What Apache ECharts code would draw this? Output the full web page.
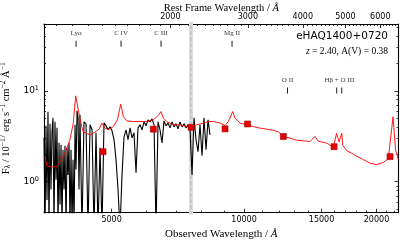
<!DOCTYPE html>
<html><head><meta charset="utf-8">
<script src="https://cdn.jsdelivr.net/npm/echarts@6/dist/echarts.min.js"></script>
<style>html,body{margin:0;padding:0;background:#fff}#c{width:407px;height:242px}</style>
</head><body><div id="c"></div>
<script>
// ---- data ----
const redshift = 2.40;
const objectName = 'eHAQ1400+0720';
// observed spectrum (black)
const specWave = [3511,3530,3548,3567,3585,3604,3623,3642,3661,3680,3700,3719,3739,3758,3778,3798,3818,3838,3858,3878,3899,3919,3940,3961,3981,4002,4023,4044,4066,4087,4109,4130,4152,4174,4196,4217,4238,
4283,4328,4374,4420,4467,4514,4561,4609,4658,4707,4756,4806,4857,4908,4960,5012,5065,5118,5172,5226,5281,5337,5393,5450,5507,5565,5623,5683,5742,5803,5864,5926,5988,6051,6115,6179,6244,6310,6376,6443,6511,6579,6649,6719,6790,6861,6933,7006,7080,7154,7229,7306,7382,7460,7539,7618,7698,7779,7861,7943,8027,8111,8197,8283,8370];
const specFlux = [3.04,0.3,4.12,0.63,5.88,0.3,4.34,0.82,3.54,5.05,0.3,4.56,1.05,3.92,0.3,2.68,0.56,2.55,0.3,2.25,0.82,2.49,0.3,2.36,1.19,2.68,0.3,2.25,0.3,1.75,0.3,4.23,1.36,6.03,5.05,0.82,5.45,
0.3,4.56,4.34,0.3,4.23,3.73,0.3,3.45,0.3,2.36,0.3,4.45,4.12,3.73,4.02,3.64,2.90,1.75,0.82,0.3,1.19,3.12,3.73,2.90,3.92,3.04,3.45,1.26,3.92,4.23,3.73,4.56,4.12,4.80,4.56,4.92,4.23,0.3,4.56,3.73,2.68,4.68,4.12,4.45,3.92,4.56,4.02,4.34,3.82,4.56,4.02,4.34,3.92,4.23,3.73,1.19,5.05,2.90,2.14,4.23,1.93,5.05,2.25,4.80,3.28];
// reddened quasar model (red)
const modelWave = [3530,3561,3623,3752,3818,3919,4023,4093,4145,4201,4276,4312,4390,4467,4547,4628,4691,4750,4832,4916,5047,5154,5246,5318,5413,5603,5803,6010,6221,6386,6477,6556,6673,6908,7154,7409,7606,7808,8082,8297,8514,8820,9054,9212,9426,9540,9793,10142,10499,10873,11261,11657,11967,12284,12721,13178,13641,14125,14500,14753,15417,15959,16229,16443,16677,16764,17119,17573,18039,18672,19335,20032,20736,21274,21810,22097,22422];
const modelFlux = [1.90,1.50,1.46,1.46,1.66,2.08,2.90,4.45,8.81,6.18,4.05,3.54,3.41,3.28,3.43,3.64,3.82,4.42,3.89,3.73,4.05,4.80,7.14,5.22,4.68,4.60,4.60,4.60,4.80,5.38,5.92,5.01,4.60,4.23,4.23,4.05,4.05,4.23,4.42,4.60,4.60,4.42,4.16,4.60,5.92,5.01,4.42,4.23,4.05,3.89,3.79,3.68,3.54,3.15,3.02,2.86,2.82,2.77,3.15,2.79,2.66,2.39,3.41,2.75,3.41,2.52,2.19,2.06,1.91,1.75,1.60,1.54,1.63,1.80,5.18,2.25,1.75];
// photometry (red squares)
const photWave = [4782,6221,7579,9054,10185,12284,16018,21468];
const photFlux = [2.14,3.79,3.97,3.82,4.32,3.15,2.43,1.89];
// emission line markers
const lineLabels = ['Lyα','C IV','C III','Mg II','O II','Hβ + O III'];
const lineLabelWave = [4152,5254,6477,9391,12558,16469];
const lineLabelLevel = [33.1,33.1,33.1,33.1,10.1,10.1];
const lineTickWave = [4152,5254,6477,9391,12558,16242,16677];
const lineTickLevel = [33.1,33.1,33.1,33.1,10.1,10.1,10.1];
// telluric band (vertical line spanning the plot)
const telluricWave = [7577, 7577];
const telluricFlux = [0.2, 120];
// axes
const obsMin = 3511, obsMax = 22440;
const fluxMin = 0.456, fluxMax = 54.5;
const obsMajorTicks = [5000,10000,15000,20000];
const obsMinorTicks = [4000,6000,7000,8000,9000,11000,12000,13000,14000,16000,17000,18000,19000,21000,22000];
const restMajorTicks = [2000,3000,4000,5000,6000];
const fluxMajorTicks = [1,10];
const fluxMinorTicks = [0.5,0.6,0.7,0.8,0.9,2,3,4,5,6,7,8,9,20,30,40,50];

const restMinorTicks = [];
for (let r = 1100; r <= 6600; r += 100) if (restMajorTicks.indexOf(r) < 0) restMinorTicks.push(r);

const serif = 'Liberation Serif';
const sans = 'DejaVu Sans';
const black = '#000';

function xAx(pos, min, max, ticks, len, labels, extra) {
  return Object.assign({
    type: 'log', logBase: 10, min: min, max: max, position: pos, gridIndex: 0,
    splitLine: {show: false}, minorTick: {show: false}, minorSplitLine: {show: false},
    axisLine: {show: !!labels, onZero: false, lineStyle: {color: black, width: 1.1}},
    axisTick: {show: true, inside: true, length: len, customValues: ticks, lineStyle: {color: black, width: 0.8}},
    axisLabel: labels ? {show: true, customValues: labels, formatter: v => String(Math.round(v)), margin: 3,
      fontFamily: sans, fontSize: 8, color: black} : {show: false},
    axisPointer: {show: false}
  }, extra || {});
}
function yAx(pos, ticks, len, labels, extra) {
  return Object.assign({
    type: 'log', logBase: 10, min: fluxMin, max: fluxMax, position: pos, gridIndex: 0,
    splitLine: {show: false}, minorTick: {show: false}, minorSplitLine: {show: false},
    axisLine: {show: len > 3, onZero: false, lineStyle: {color: black, width: 1.1}},
    axisTick: {show: true, inside: true, length: len, customValues: ticks, lineStyle: {color: black, width: 0.8}},
    axisLabel: labels ? {show: true, customValues: labels, margin: 5,
      formatter: v => '{b|10}{s|' + Math.round(Math.log10(v)) + '}',
      rich: {b: {fontFamily: sans, fontSize: 9, lineHeight: 12, color: black},
             s: {fontFamily: sans, fontSize: 6.5, lineHeight: 5, verticalAlign: 'top', color: black}}} : {show: false},
    axisPointer: {show: false}
  }, extra || {});
}

const telluricData = telluricWave.map((w, i) => [w, telluricFlux[i]]);

const chart = echarts.init(document.getElementById('c'), null, {renderer: 'canvas', width: 407, height: 242});
chart.setOption({
  animation: false,
  backgroundColor: '#fff',
  grid: {left: 44, right: 8.5, top: 24, bottom: 29.3, containLabel: false, outerBoundsMode: 'none'},
  title: [
    {text: objectName, right: 19, top: 31, padding: 0,
     textStyle: {fontFamily: sans, fontSize: 10.5, fontWeight: 'normal', color: black}},
    {text: '{i|z} = 2.40, A(V) = 0.38', right: 19, top: 46, padding: 0,
     textStyle: {fontFamily: serif, fontSize: 9.5, fontWeight: 'normal', color: black,
       rich: {i: {fontFamily: serif, fontSize: 9.5, fontStyle: 'italic', color: black}}}}
  ],
  xAxis: [
    xAx('bottom', obsMin, obsMax, obsMajorTicks, 4, obsMajorTicks, {
      name: 'Observed Wavelength / {i|Å}', nameLocation: 'middle', nameGap: 14,
      nameTextStyle: {fontFamily: serif, fontSize: 11, color: black,
        rich: {i: {fontFamily: serif, fontSize: 11, fontStyle: 'italic', color: black}}}}),
    xAx('bottom', obsMin, obsMax, obsMinorTicks, 2, null),
    xAx('top', obsMin / (1 + redshift), obsMax / (1 + redshift), restMajorTicks, 4, restMajorTicks, {
      name: 'Rest Frame Wavelength / {i|Å}', nameLocation: 'middle', nameGap: 10, nameMoveOverlap: false,
      nameTextStyle: {fontFamily: serif, fontSize: 10.5, color: black,
        rich: {i: {fontFamily: serif, fontSize: 10.5, fontStyle: 'italic', color: black}}}}),
    xAx('top', obsMin / (1 + redshift), obsMax / (1 + redshift), restMinorTicks, 2, null)
  ],
  yAxis: [
    yAx('left', fluxMajorTicks, 4, fluxMajorTicks, {
      name: '{t|F}{sub|λ}{t| / 10}{sup|−17}{t| erg s}{sup|−1}{t| cm}{sup|−2}{t| Å}{sup|−1}',
      nameLocation: 'middle', nameGap: 24, nameRotate: 90,
      nameTextStyle: {rich: {
        t: {fontFamily: serif, fontSize: 10.5, lineHeight: 13, color: black},
        sub: {fontFamily: serif, fontSize: 7.5, lineHeight: 6, verticalAlign: 'bottom', color: black},
        sup: {fontFamily: serif, fontSize: 7.5, lineHeight: 6, verticalAlign: 'top', color: black}}}}),
    yAx('left', fluxMinorTicks, 2, null),
    yAx('right', fluxMajorTicks, 4, null),
    yAx('right', fluxMinorTicks, 2, null)
  ],
  series: [
    {type: 'line', name: 'telluricBand', xAxisIndex: 0, yAxisIndex: 0, z: 1, data: telluricData,
     showSymbol: false, symbol: 'none', clip: true, silent: true,
     lineStyle: {color: '#dcdcdc', width: 4}},
    {type: 'line', name: 'telluricDash', xAxisIndex: 0, yAxisIndex: 0, z: 1, data: telluricData,
     showSymbol: false, symbol: 'none', clip: true, silent: true,
     lineStyle: {color: '#bcbcbc', width: 1.2, type: [4, 2]}},
    {type: 'line', name: 'spectrum', xAxisIndex: 0, yAxisIndex: 0, z: 2,
     data: specWave.map((w, i) => [w, specFlux[i]]),
     showSymbol: false, symbol: 'none', clip: true,
     lineStyle: {color: '#000', width: 1.1}},
    {type: 'line', name: 'model', xAxisIndex: 0, yAxisIndex: 0, z: 3,
     data: modelWave.map((w, i) => [w, modelFlux[i]]),
     showSymbol: false, symbol: 'none', clip: true,
     lineStyle: {color: '#ff0000', width: 0.9}},
    {type: 'scatter', name: 'photometry', xAxisIndex: 0, yAxisIndex: 0, z: 4,
     data: photWave.map((w, i) => [w, photFlux[i]]),
     symbol: 'rect', symbolSize: 6,
     itemStyle: {color: '#e60000', borderColor: '#a00000', borderWidth: 0.6, opacity: 1}},
    {type: 'scatter', name: 'lineTicks', xAxisIndex: 0, yAxisIndex: 0, z: 5,
     data: lineTickWave.map((w, i) => [w, lineTickLevel[i]]),
     symbol: 'rect', symbolSize: [0.9, 6], itemStyle: {color: '#000', opacity: 1}},
    {type: 'scatter', name: 'lineLabels', xAxisIndex: 0, yAxisIndex: 0, z: 5,
     data: lineLabelWave.map((w, i) => [w, lineLabelLevel[i]]),
     symbolSize: 6, itemStyle: {color: 'rgba(0,0,0,0)'},
     label: {show: true, position: 'top', distance: 4,
       formatter: p => lineLabels[p.dataIndex],
       fontFamily: serif, fontSize: 7, color: '#000'}}
  ]
});
</script></body></html>
